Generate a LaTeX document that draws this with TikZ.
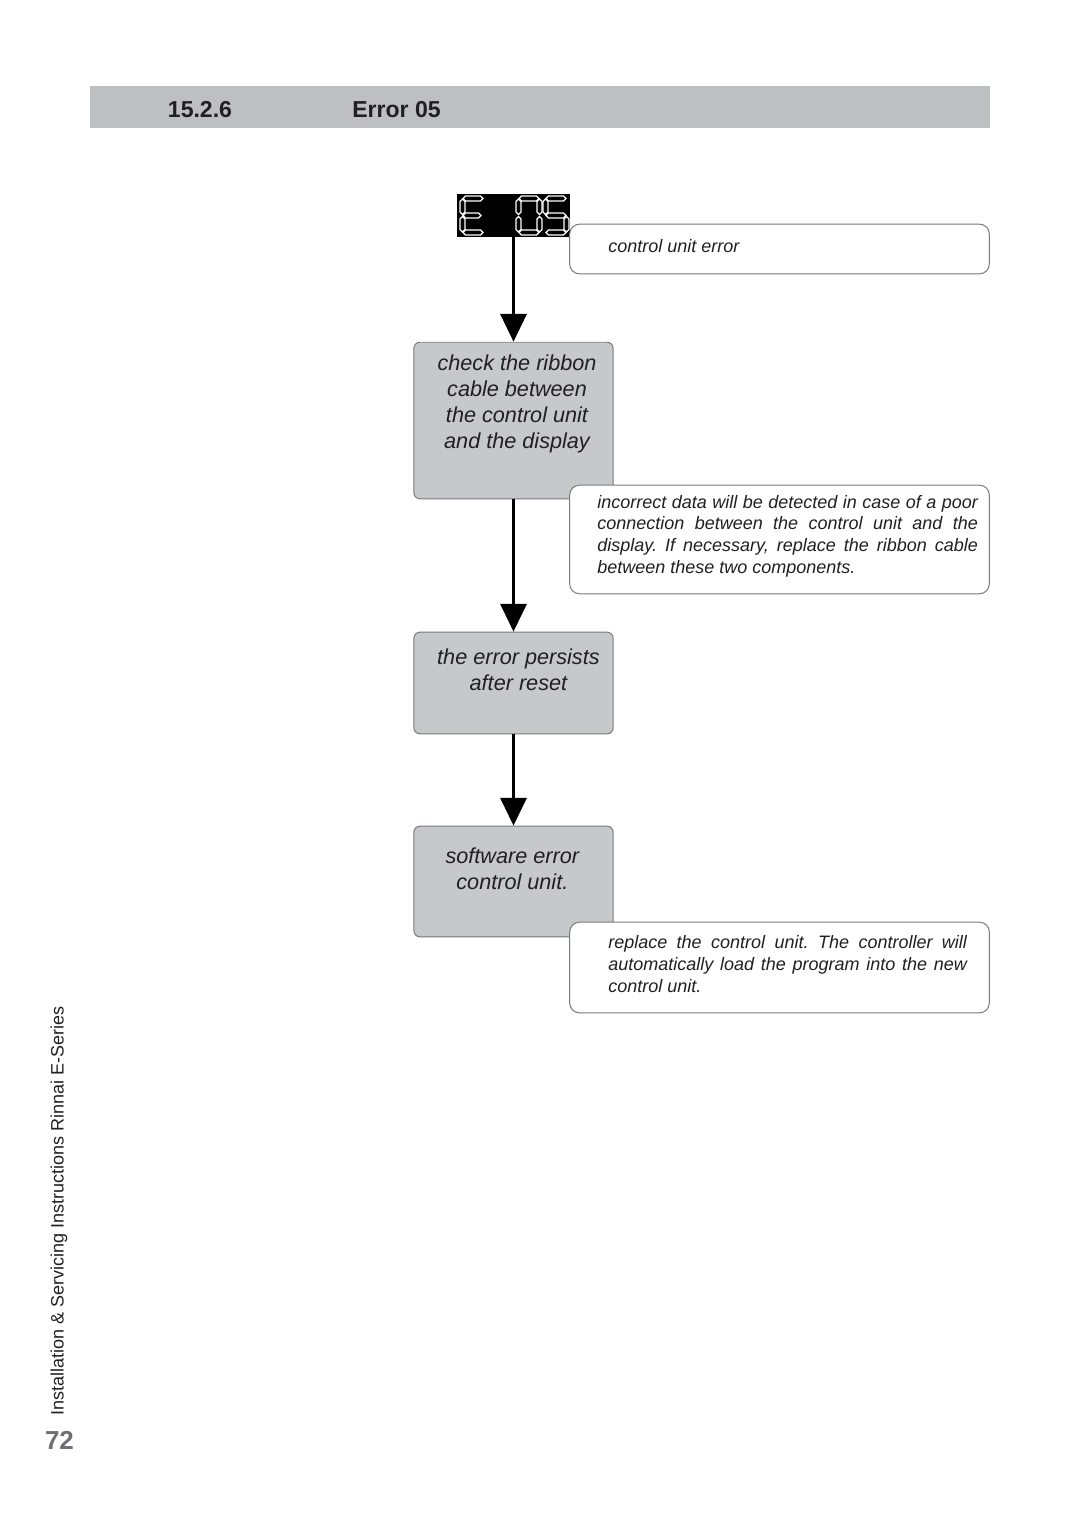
\documentclass[tikz,border=0pt]{standalone}
\usepackage{fontspec}
\setmainfont{Liberation Sans}
\usepackage{xcolor}
\usetikzlibrary{arrows.meta}

\definecolor{barfill}{RGB}{190,191,193}
\definecolor{boxfill}{RGB}{199,200,202}
\definecolor{boxline}{RGB}{120,121,124}
\definecolor{ink}{RGB}{35,31,32}
\definecolor{pagenum}{RGB}{110,111,114}

% one segment of the display, horizontal and vertical
\newcommand{\segh}[3]{\draw[dseg] (#1,#2) -- (#1+2.5,#2-2.5) -- (#3-2.5,#2-2.5) -- (#3,#2) -- (#3-2.5,#2+2.5) -- (#1+2.5,#2+2.5) -- cycle;}
\newcommand{\segv}[3]{\draw[dseg] (#1,#2) -- (#1+2.5,#2+2.5) -- (#1+2.5,#3-2.5) -- (#1,#3) -- (#1-2.5,#3-2.5) -- (#1-2.5,#2+2.5) -- cycle;}

\tikzset{
  stepbox/.style={draw=boxline, line width=0.7pt, fill=boxfill, rounded corners=4.3pt, minimum width=141.7pt, inner sep=0pt},
  steptext/.style={anchor=north, align=center, inner sep=0pt, text=ink, font=\fontsize{15.4}{18.4}\selectfont\itshape},
  notebox/.style={draw=boxline, line width=0.7pt, fill=white, rounded corners=7pt, minimum width=298.4pt, inner sep=0pt},
  notetext/.style={inner sep=0pt, text=ink, font=\fontsize{12.8}{15.6}\selectfont\itshape\frenchspacing},
  flow/.style={-{Triangle[width=18.4pt,length=19.8pt]}, line width=2.6pt},
  dseg/.style={draw=white, line width=0.9pt, line join=miter},
  headtext/.style={text=ink, font=\fontsize{16.4}{19}\selectfont\bfseries}
}

\begin{document}
\begin{tikzpicture}[x=0.025cm, y=-0.025cm]
  \useasboundingbox (0,0) rectangle (1080,1527);

  % heading
  \fill[barfill] (90,86) rectangle (990,128);
  \node[headtext] at (200,110) (secno) {15.2.6};
  \node[headtext] at (396.5,110) (sectitle) {Error 05};

  % display
  \node[fill=black, minimum width=80.1pt, minimum height=30.5pt, inner sep=0pt] at (513.5,215.5) (disp) {};
  \segh{463}{198.5}{483} \segv{462.5}{199}{214.5} \segh{463}{215.5}{481}
  \segv{462.5}{216.5}{232} \segh{463}{232.5}{483}
  \segh{519}{198.5}{539} \segv{539.5}{199}{214.5} \segv{539.5}{216.5}{232}
  \segh{519}{232.5}{539} \segv{518.5}{216.5}{232} \segv{518.5}{199}{214.5}
  \segh{546}{198.5}{566} \segv{545.5}{199}{214.5} \segh{546}{215.5}{566}
  \segv{566.5}{216.5}{232} \segh{546}{232.5}{566}

  % steps
  \node[stepbox, minimum height=111.3pt,
    label={[steptext, xshift=2.5pt, yshift=-9.3pt]north:{check the ribbon\\cable between\\the control unit\\and the display}}]
    at (513.5,420.5) (cable) {};
  \node[stepbox, minimum height=72.3pt,
    label={[steptext, xshift=3.5pt, yshift=-11.9pt]north:{the error persists\\after reset}}]
    at (513.5,683) (persist) {};
  \node[stepbox, minimum height=78.7pt,
    label={[steptext, xshift=-0.8pt, yshift=-15.5pt]north:{software error\\control unit.}}]
    at (513.5,881.5) (softerr) {};

  \draw[flow] (disp) -- (cable);
  \draw[flow] (cable) -- (persist);
  \draw[flow] (persist) -- (softerr);

  % notes
  \node[notebox, minimum height=35.4pt,
    label={[notetext, anchor=west, xshift=27.6pt, yshift=2.1pt]west:control unit error}]
    at (779.5,249) (note1) {};
  \node[notebox, minimum height=77.2pt,
    label={[notetext, align=justify, text width=270.7pt, anchor=north west, xshift=19.8pt, yshift=-7.1pt]north west:{incorrect data will be detected in case of a poor\linebreak connection between the control unit and the\linebreak display. If necessary, replace the ribbon cable\linebreak between these two components.}}]
    at (779.5,539.5) (note2) {};
  \node[notebox, minimum height=64.5pt,
    label={[notetext, align=justify, text width=255.1pt, anchor=north west, xshift=27.6pt, yshift=-9.9pt]north west:{replace the control unit. The controller will\linebreak automatically load the program into the new\linebreak control unit.}}]
    at (779.5,967.5) (note3) {};

  % margin
  \node[rotate=90, text=ink, font=\fontsize{12.8}{15}\selectfont] at (59,1211) (series) {Installation \& Servicing Instructions Rinnai E-Series};
  \node[text=pagenum, font=\fontsize{18.5}{22}\selectfont\bfseries] at (59.5,1440) (pageno) {72};
\end{tikzpicture}
\end{document}
